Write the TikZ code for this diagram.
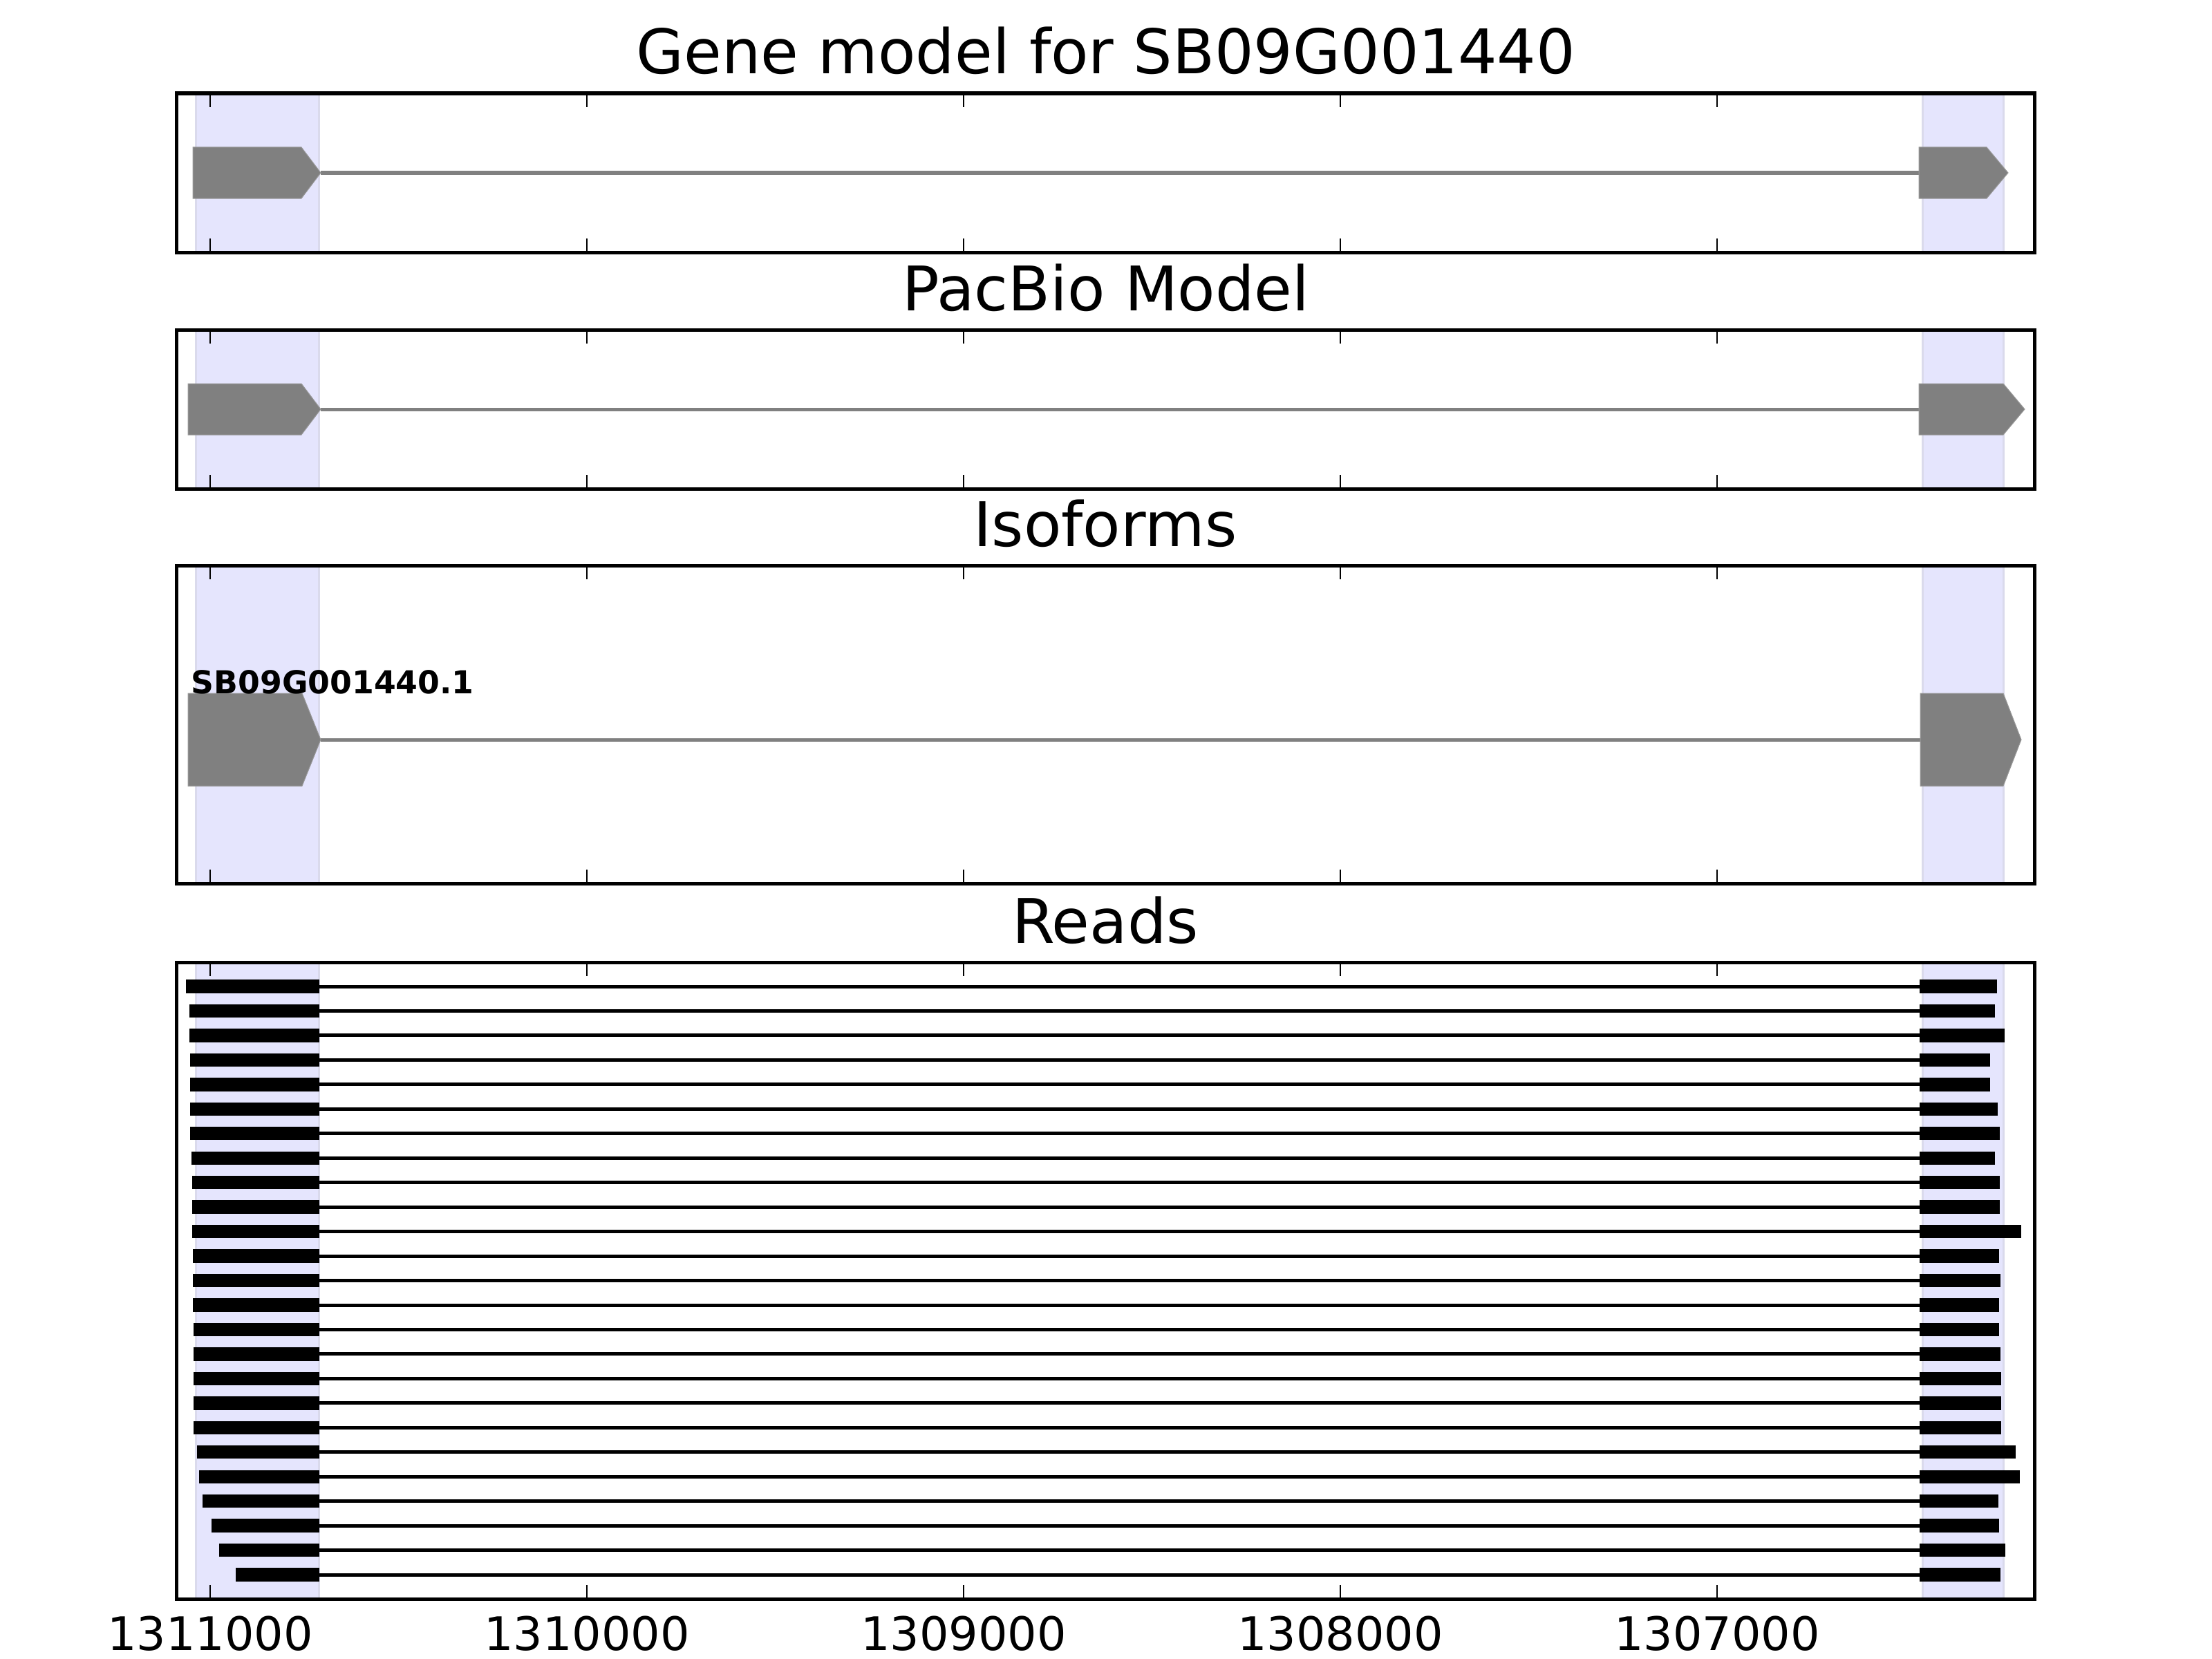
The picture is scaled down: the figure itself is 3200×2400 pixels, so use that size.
\documentclass[tikz,border=0pt]{standalone}
\usepackage{fontspec}
\setmainfont{DejaVu Sans}
\usepackage{tikz}
\definecolor{exonGrey}{RGB}{128,128,128}
\definecolor{spanBlue}{RGB}{229,229,253}
\definecolor{spanEdge}{RGB}{218,218,236}

\begin{document}
\begin{tikzpicture}[x=0.01cm, y=-0.01cm,
  frame/.style={line width=0.05cm, black},
  tickmark/.style={line width=0.028cm, black},
  titletext/.style={anchor=base, inner sep=0pt, font=\fontsize{25.3}{30}\selectfont},
  ticktext/.style={anchor=base, inner sep=0pt, font=\fontsize{19}{23}\selectfont},
  exonshape/.style={fill=exonGrey, draw=exonGrey!80, line width=0.01cm},
  intron/.style={exonGrey, line width=0.05cm},
  readline/.style={black, line width=0.05cm}]
\useasboundingbox (0,0) rectangle (3200,2400);

% Shaded exon spans
\foreach \top/\bot in {135/365, 477/707, 818/1278, 1392/2313} {
  \fill[spanBlue] (283,\top) rectangle (461,\bot);
  \fill[spanBlue] (2781,\top) rectangle (2898,\bot);
  \foreach \xe in {283, 461, 2781, 2898}
    \draw[spanEdge, line width=0.03cm] (\xe,\top) -- (\xe,\bot);
}

% Gene models
\foreach \c/\h/\la/\lb/\lc/\ra/\rb/\rc in {250/37/279/436/464/2776/2874/2905,
    592/37/272/436/464/2776/2898/2929, 1070/67/272/437/464/2778/2898/2924} {
  \draw[intron] (\lc,\c) -- (\ra,\c);
  \fill[exonshape] (\la,\c-\h) -- (\lb,\c-\h) -- (\lc,\c) -- (\lb,\c+\h) -- (\la,\c+\h) -- cycle;
  \fill[exonshape] (\ra,\c-\h) -- (\rb,\c-\h) -- (\rc,\c) -- (\rb,\c+\h) -- (\ra,\c+\h) -- cycle;
}
\node[anchor=base west, inner sep=0pt, font=\fontsize{13}{15}\selectfont\bfseries] (isoName) at (276,1003) {SB09G001440.1};

% Reads
\foreach \l/\r [count=\i from 0] in {269/2889, 274/2886, 274/2900, 275/2879, 275/2879,
    275/2890, 275/2893, 277/2886, 278/2893, 278/2893, 278/2924, 279/2892, 279/2894,
    279/2892, 280/2892, 280/2894, 280/2895, 280/2895, 280/2895, 285/2916, 288/2922,
    293/2891, 306/2892, 317/2901, 341/2894} {
  \pgfmathsetmacro\y{1427+35.46*\i}
  \draw[readline] (462,\y) -- (2777,\y);
  \fill[black] (\l,{\y-9.7}) rectangle (462,{\y+9.7});
  \fill[black] (2777,{\y-9.7}) rectangle (\r,{\y+9.7});
}

% Frames and ticks
\foreach \top/\bot in {135/365, 477/707, 818/1278, 1392/2313} {
  \foreach \xt in {304, 849, 1394, 1939, 2484} {
    \draw[tickmark] (\xt,\top) -- ++(0,20);
    \draw[tickmark] (\xt,\bot) -- ++(0,-20);
  }
  \draw[frame] (255,\top) rectangle (2943,\bot);
}

% Titles
\node[titletext] (titleGene) at (1600,107) {Gene model for SB09G001440};
\node[titletext] (titlePacBio) at (1600,449) {PacBio Model};
\node[titletext] (titleIso) at (1599,790) {Isoforms};
\node[titletext] (titleReads) at (1599,1364) {Reads};

% Position axis
\foreach \xt/\pos in {304/1311000, 849/1310000, 1394/1309000, 1939/1308000, 2484/1307000} {
  \node[ticktext] (lab\pos) at (\xt,2387) {\pos};
}
\end{tikzpicture}
\end{document}
